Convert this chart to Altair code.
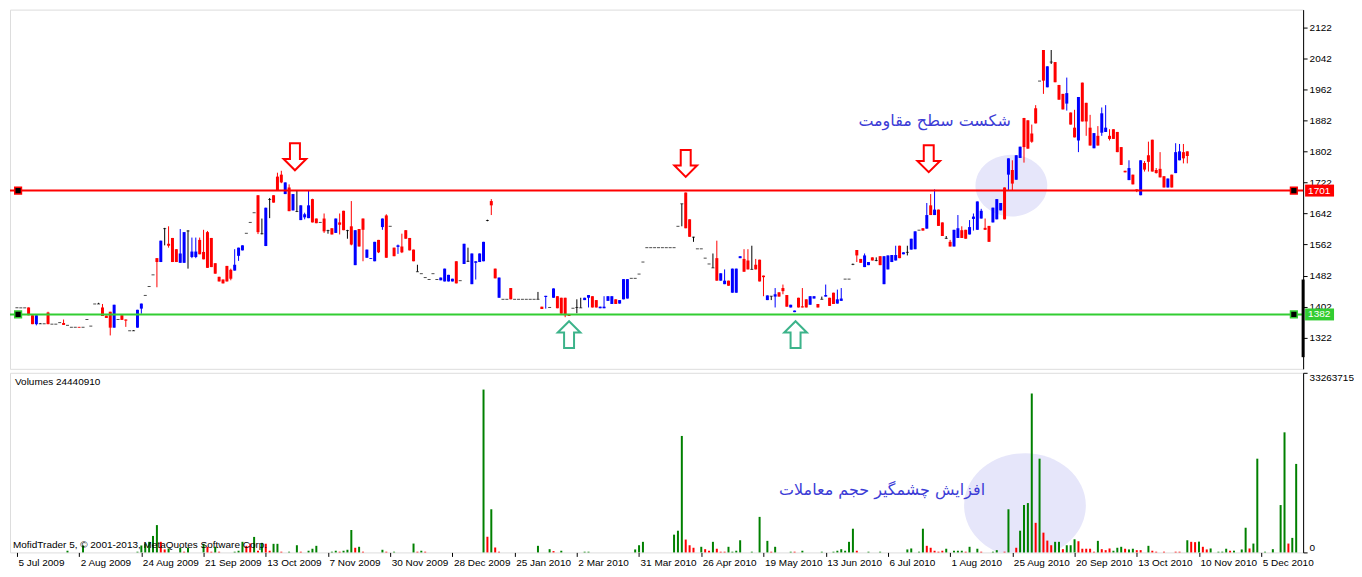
import json
import altair as alt
import pandas as pd

# ---------------- price candles (bar index -> O/H/L/C) ----------------
O = [
 1399,1399,1399,1400,1380,1357,1358,1358,1387,1357,
 1357,1361,1360,1354,1349,1349,1350,1349,1369,1352,
 1409,1409,1400,1379,1389,1348,1369,1380,1369,1340,
 1340,1348,1397,1431,1454,1484,1527,1517,1603,1564,
 1579,1550,1515,1515,1597,1530,1530,1574,1543,1594,
 1579,1514,1479,1472,1507,1497,1495,1533,1547,1591,
 1619,1644,1689,1590,1558,1678,1689,1737,1742,1692,
 1709,1650,1647,1625,1632,1630,1679,1629,1619,1629,
 1598,1604,1592,1619,1649,1598,1609,1509,1602,1629,
 1528,1525,1519,1574,1607,1637,1609,1554,1556,1557,
 1599,1579,1549,1492,1487,1477,1472,1487,1472,1470,
 1467,1467,1467,1519,1469,1512,1519,1460,1515,1517,
 1519,1624,1674,1500,1425,1421,1421,1450,1421,1421,
 1421,1421,1421,1421,1421,1402,1427,1400,1425,1429,
 1425,1425,1381,1398,1400,1399,1419,1425,1429,1419,
 1398,1398,1417,1409,1421,1410,1421,1423,1475,1475,
 1486,1517,1554,1554,1554,1554,1554,1554,1554,1554,
 1609,1667,1696,1627,1581,1551,1551,1527,1512,1502,
 1527,1469,1460,1469,1438,1438,1527,1525,1521,1498,
 1510,1523,1482,1419,1429,1428,1439,1450,1432,1400,
 1388,1425,1403,1421,1407,1423,1409,1421,1428,1425,
 1438,1410,1417,1473,1473,1511,1548,1525,1504,1509,
 1529,1521,1532,1460,1498,1517,1521,1559,1537,1542,
 1549,1550,1599,1604,1603,1663,1638,1652,1619,1578,
 1569,1557,1579,1599,1600,1588,1628,1600,1629,1605,
 1610,1619,1627,1650,1709,1742,1754,1729,1785,1888,
 1882,1848,1913,1983,2063,1967,2032,2032,1973,1950,
 1925,1902,1863,1830,1979,1927,1863,1810,1842,1850,
 1852,1842,1859,1852,1813,1752,1728,1742,1704,1689,
 1772,1792,1832,1754,1757,1738,1709,1742,1746,1779,
 1800,1802]
H = [
 1399,1399,1399,1400,1380,1380,1360,1358,1389,1357,
 1357,1361,1369,1354,1349,1349,1350,1349,1369,1352,
 1409,1412,1409,1379,1389,1407,1369,1380,1369,1340,
 1342,1394,1410,1431,1454,1484,1527,1572,1605,1609,
 1579,1550,1602,1594,1599,1580,1580,1580,1600,1597,
 1579,1514,1479,1472,1507,1500,1550,1554,1560,1591,
 1619,1644,1689,1629,1657,1682,1689,1747,1752,1722,
 1717,1692,1702,1663,1644,1702,1680,1629,1619,1642,
 1600,1604,1629,1642,1649,1600,1674,1599,1602,1629,
 1549,1527,1569,1574,1629,1640,1609,1554,1562,1590,
 1599,1579,1549,1510,1487,1477,1472,1487,1472,1477,
 1500,1484,1474,1519,1469,1564,1554,1539,1519,1539,
 1569,1626,1679,1500,1477,1421,1421,1450,1421,1421,
 1421,1421,1421,1421,1440,1402,1430,1400,1449,1429,
 1425,1425,1381,1398,1421,1425,1425,1432,1429,1419,
 1402,1429,1429,1429,1421,1419,1473,1473,1475,1475,
 1486,1517,1554,1554,1554,1554,1554,1554,1554,1554,
 1609,1667,1696,1627,1582,1551,1551,1527,1512,1539,
 1572,1488,1498,1469,1500,1500,1532,1550,1550,1559,
 1525,1523,1482,1431,1429,1450,1439,1459,1432,1407,
 1392,1425,1450,1421,1429,1429,1409,1428,1459,1425,
 1438,1446,1450,1473,1473,1513,1548,1525,1539,1517,
 1529,1529,1532,1532,1534,1535,1559,1559,1542,1559,
 1577,1596,1599,1604,1669,1692,1704,1652,1619,1584,
 1574,1600,1638,1609,1600,1625,1642,1673,1654,1629,
 1610,1657,1679,1669,1709,1784,1779,1792,1814,1888,
 1882,1871,1921,1983,2063,2021,2063,2032,1973,1950,
 1992,1902,1909,1942,1979,1927,1896,1849,1867,1915,
 1921,1859,1859,1852,1813,1752,1779,1742,1704,1779,
 1777,1827,1832,1759,1800,1738,1732,1742,1823,1821,
 1821,1802]
L = [
 1399,1399,1399,1380,1357,1354,1358,1358,1357,1357,
 1357,1361,1355,1354,1349,1349,1348,1349,1369,1352,
 1409,1409,1378,1373,1328,1348,1369,1368,1350,1340,
 1340,1348,1384,1431,1454,1484,1452,1517,1560,1554,
 1517,1517,1515,1515,1500,1527,1527,1537,1524,1502,
 1504,1487,1467,1462,1467,1470,1495,1520,1547,1591,
 1619,1644,1589,1588,1558,1630,1670,1700,1720,1692,
 1648,1650,1646,1625,1627,1630,1619,1617,1619,1592,
 1590,1588,1592,1588,1599,1577,1560,1509,1557,1519,
 1528,1525,1519,1540,1600,1528,1609,1532,1538,1540,
 1577,1547,1519,1492,1487,1477,1472,1487,1472,1470,
 1467,1467,1467,1462,1469,1512,1517,1460,1472,1517,
 1519,1622,1638,1475,1425,1421,1421,1421,1421,1421,
 1421,1421,1421,1421,1421,1396,1397,1400,1425,1398,
 1384,1375,1378,1398,1385,1399,1419,1400,1400,1400,
 1398,1398,1417,1409,1409,1410,1421,1423,1475,1475,
 1486,1517,1554,1554,1554,1554,1554,1554,1554,1554,
 1609,1609,1604,1582,1569,1551,1551,1527,1512,1502,
 1469,1469,1460,1456,1438,1438,1527,1492,1498,1498,
 1498,1467,1429,1419,1419,1400,1428,1434,1402,1400,
 1388,1400,1400,1400,1407,1423,1400,1421,1428,1404,
 1409,1410,1417,1473,1473,1509,1517,1515,1504,1509,
 1521,1519,1509,1460,1498,1517,1521,1527,1537,1534,
 1549,1550,1599,1598,1603,1638,1638,1610,1584,1577,
 1557,1557,1579,1579,1577,1588,1598,1600,1629,1600,
 1569,1619,1627,1650,1627,1702,1700,1729,1785,1773,
 1809,1824,1874,1983,1950,1967,2027,1980,1935,1910,
 1907,1871,1838,1800,1879,1842,1817,1810,1817,1842,
 1852,1830,1834,1800,1767,1748,1728,1717,1697,1689,
 1750,1750,1750,1745,1735,1709,1709,1709,1746,1779,
 1771,1771]
C = [
 1399,1399,1399,1380,1357,1380,1358,1358,1357,1357,
 1357,1361,1355,1354,1349,1349,1348,1349,1369,1352,
 1409,1409,1378,1373,1348,1407,1369,1368,1366,1340,
 1340,1394,1410,1431,1454,1484,1517,1572,1603,1559,
 1517,1517,1539,1594,1597,1544,1544,1537,1524,1502,
 1504,1487,1467,1462,1467,1474,1510,1554,1560,1591,
 1619,1644,1594,1590,1657,1678,1670,1702,1722,1722,
 1648,1692,1647,1663,1640,1663,1619,1617,1619,1596,
 1598,1588,1629,1613,1599,1598,1562,1599,1557,1600,
 1549,1527,1569,1542,1629,1528,1609,1532,1560,1542,
 1577,1547,1519,1492,1487,1477,1472,1487,1472,1477,
 1500,1484,1474,1462,1469,1564,1519,1539,1519,1539,
 1569,1624,1663,1475,1477,1421,1421,1421,1421,1421,
 1421,1421,1421,1421,1421,1396,1430,1400,1449,1398,
 1384,1380,1378,1398,1400,1399,1425,1432,1400,1400,
 1402,1402,1429,1429,1409,1419,1473,1473,1475,1475,
 1486,1517,1554,1554,1554,1554,1554,1554,1554,1554,
 1609,1667,1604,1582,1581,1551,1551,1527,1512,1502,
 1469,1488,1469,1456,1500,1500,1532,1492,1498,1498,
 1498,1467,1478,1431,1429,1434,1428,1442,1402,1407,
 1392,1400,1400,1400,1429,1429,1400,1421,1432,1404,
 1409,1421,1423,1473,1473,1511,1534,1515,1534,1517,
 1521,1521,1509,1532,1534,1535,1535,1527,1542,1542,
 1577,1596,1599,1598,1638,1638,1652,1610,1584,1578,
 1557,1600,1604,1579,1577,1607,1634,1673,1649,1600,
 1569,1657,1679,1669,1627,1784,1719,1792,1814,1813,
 1809,1827,1874,1983,1984,2021,2032,1980,1935,1910,
 1952,1871,1838,1942,1879,1879,1817,1849,1817,1900,
 1863,1834,1834,1800,1767,1748,1759,1717,1700,1779,
 1755,1775,1750,1746,1735,1709,1732,1709,1800,1802,
 1784,1790]

# ---------------- volumes (bar index, millions, up/down colour) ----------------
vol_idx = ([13,17,31,32,33,34,35,36,37,38,39,42,43,44,48,49,50,51,52]
         + [56,57,58,59,60,61,62,63,64,65,66,67,68,70,72,73,75,76,77,81,82,83,84,85,86,87,88,89]
         + [94,95,97,102,103,104,105,120,121,122,123,124]
         + [134,137,138,140,146,147,159,160,161,169,170,171,172,173,174,176,177,178,179,180,181,182,183,184,185,186,189,191,193,194,195]
         + [199,200,202,207,210,211,212,213,214,215,216,219,222,229,230,232,233,234,235,236,237,238,239,241,242,243,244,245,247,248,251,252,254]
         + [255,257,258,259,260,261,262,263,264,265,266,267,268,269,270,271,272,273,274,275,276,277,278,279,280,281,282,283,284,285,286,287,288,289,291,292,293,295,298,299,301]
         + [302,303,304,305,306,307,309,310,311,312,313,315,316,317,318,319,321,323,325,326,327,328,329])
vol_val = ([0.31,1.28,0.13,1.28,1.64,1.96,3.05,5.06,1.96,0.55,0.73,0.86,0.13,0.86,1.59,1.04,0.13,1.04,0.13]
         + [0.13,0.31,1.96,1.22,1.64,2.87,0.31,1.77,1.59,0.31,1.59,1.59,0.13,0.13,1.33,0.13,0.31,0.68,1.22,0.13,0.31,0.13,0.31,0.49,4.15,0.86,1.04,0.13]
         + [0.49,0.13,0.13,1.64,0.13,0.31,0.13,30.16,2.9,7.99,0.91,0.13]
         + [1.22,0.6,0.24,0.31,0.13,0.13,0.55,1.33,1.96,3.29,4.02,21.57,2.38,1.33,0.86,1.04,0.6,0.31,1.96,0.68,0.13,0.13,1.04,0.13,0.31,2.25,0.13,6.58,2.14,0.13,1.04]
         + [0.13,0.13,0.31,0.13,0.13,0.31,0.6,0.31,1.96,4.39,0.31,0.13,0.13,0.55,0.73,0.13,4.39,1.22,0.86,0.31,0.13,0.31,0.68,0.31,0.31,0.31,0.13,1.04,0.68,0.13,0.13,0.42,0.13]
         + [7.99,0.86,4.02,8.77,9.14,29.43,5.48,17.36,3.66,2.19,1.33,1.96,1.96,0.6,1.33,1.33,2.43,2.07,0.68,0.68,0.68,0.13,2.14,0.6,0.42,0.73,0.31,0.86,1.04,0.68,0.55,0.68,0.42,0.42,1.22,0.31,0.13,0.13,0.13,0.13,2.25]
         + [1.96,1.9,2.0,1.04,0.55,0.73,0.13,0.14,0.68,0.31,0.32,0.55,4.57,0.73,1.64,17.36,0.13,0.6,8.77,22.24,1.64,2.69,16.39])
vol_dir = ("ggggggggrrggrggrrgr"
         + "gggrrgrgrrggrggrgggggrgggrgr"
         + "grggrgrgrgrr"
         + "ggrggggggggg" + "rrr" + "grrgrrrgggggggrg"
         + "grgggggggg" + "r" + "gggggg" + "rrrrr" + "gggg" + "r" + "gg" + "r" + "gg" + "r"
         + "grgggg" + "rg" + "rrr" + "gg" + "r" + "ggg" + "rrrrr" + "g" + "rrr" + "ggg" + "r" + "gg" + "rr" + "g" + "rrrrr" + "g"
         + "rrgrrggggrgggrggggggrgg")

# ---------------- axes / annotations ----------------
N_BARS = 330
tick_idx = list(range(0, 321, 16))
tick_labels = ["5 Jul 2009", "2 Aug 2009", "24 Aug 2009", "21 Sep 2009", "13 Oct 2009",
               "7 Nov 2009", "30 Nov 2009", "28 Dec 2009", "25 Jan 2010", "2 Mar 2010",
               "31 Mar 2010", "26 Apr 2010", "19 May 2010", "13 Jun 2010", "6 Jul 2010",
               "1 Aug 2010", "25 Aug 2010", "20 Sep 2010", "13 Oct 2010", "10 Nov 2010",
               "5 Dec 2010"]
price_ticks = [1322, 1402, 1482, 1562, 1642, 1722, 1802, 1882, 1962, 2042, 2122]
price_domain = [1242, 2167]
vol_max = 33263715
levels = [1701, 1382]
level_colors = ["#FF0000", "#32CD32"]
scroll_range = [1472, 1272]
down_i, down_p = [71.5, 172, 234.5], [1788, 1771, 1783]
up_i, up_p = [142, 200.25], [1330, 1330]
res_text = "شکست سطح مقاومت"
res_i, res_p = 236, 1880
vol_text = "افزایش چشمگیر حجم معاملات"
vtxt_i, vtxt_v = 222.5, 11.5e6
ell_i, ell_p = 255.75, 1714
vell_i, vell_v = 259.25, 8.68e6

assert len(O) == len(H) == len(L) == len(C)
assert len(vol_idx) == len(vol_val) == len(vol_dir), (len(vol_idx), len(vol_val), len(vol_dir))

W, HP, HV = 1296, 360, 180
FONT = "Liberation Sans"
FS = 10
ELL = "M-1,0 A1,0.86 0 1,0 1,0 A1,0.86 0 1,0 -1,0 Z"
DOWN = "M-0.37,-1 L0.37,-1 L0.37,0.16 L0.84,0.16 L0,1 L-0.84,0.16 L-0.37,0.16 Z"
UP = "M-0.37,1 L0.37,1 L0.37,-0.16 L0.84,-0.16 L0,-1 L-0.84,-0.16 L-0.37,-0.16 Z"
PERSIAN_BLUE = "#3c3cd6"

cdf = pd.DataFrame({"i": range(len(O)), "o": O, "h": H, "l": L, "c": C})
cdf["col"] = ["#0000FF" if c > o else ("#FF0000" if c < o else "#000000") for o, c in zip(O, C)]

xs = alt.Scale(domain=[-0.5, N_BARS - 0.5], nice=False, zero=False)
ys = alt.Scale(domain=price_domain, nice=False, zero=False)
pax = alt.Axis(orient="right", values=price_ticks, format="d", title=None, grid=False, tickSize=4,
               tickColor="black", domainColor="black", labelColor="black",
               labelFont=FONT, labelFontSize=FS, labelPadding=2)
xp = alt.X("i:Q", scale=xs, axis=None)
colr = alt.Color("col:N", scale=None)

def py(field):
    return alt.Y(field, scale=ys, axis=pax)

base = alt.Chart(cdf)
wicks = base.transform_filter("datum.h > datum.l").mark_rule(strokeWidth=1).encode(
    x=xp, y=py("l:Q"), y2="h:Q", color=colr)
bodies = base.transform_filter("datum.o != datum.c").mark_bar(size=3, orient="vertical").encode(
    x=xp, y=py("o:Q"), y2="c:Q", color=colr)
flats = base.transform_filter("datum.o == datum.c").mark_tick(orient="horizontal", size=3, thickness=1).encode(
    x=xp, y=py("c:Q"), color=colr)

ell = alt.Chart(pd.DataFrame({"i": [ell_i], "p": [ell_p]})).mark_point(
    shape=ELL, size=72 * 72, filled=True, color="#E6E6FA", opacity=1, strokeWidth=0).encode(
    x=xp, y=py("p:Q"))

ldf = pd.DataFrame({"p": levels, "col": level_colors, "lab": [str(v) for v in levels]})
lines = alt.Chart(ldf).mark_rule(strokeWidth=2).encode(y=py("p:Q"), color=colr)
sq_rows = []
for p, col in zip(levels, level_colors):
    for i in (0.3, N_BARS - 1.6):
        sq_rows.append({"i": i, "p": p, "col": col})
squares = alt.Chart(pd.DataFrame(sq_rows)).mark_square(size=45, fill="black", strokeWidth=1.5, opacity=1).encode(
    x=xp, y=py("p:Q"), stroke=alt.Stroke("col:N", scale=None))
boxes = alt.Chart(ldf).mark_rule(strokeWidth=12).encode(
    x=alt.value(W + 2), x2=alt.value(W + 31), y=py("p:Q"), color=colr)
boxtext = alt.Chart(ldf).mark_text(align="left", baseline="middle", color="white", font=FONT, fontSize=FS).encode(
    x=alt.value(W + 5), y=py("p:Q"), text="lab:N")
scroll = alt.Chart(pd.DataFrame({"a": [scroll_range[0]], "b": [scroll_range[1]]})).mark_rule(
    strokeWidth=3, color="black").encode(x=alt.value(W), y=py("a:Q"), y2="b:Q")

down = alt.Chart(pd.DataFrame({"i": down_i, "p": down_p})).mark_point(
    shape=DOWN, size=729, filled=False, fill="white", stroke="#FF0000", strokeWidth=2, opacity=1).encode(
    x=xp, y=py("p:Q"))
up = alt.Chart(pd.DataFrame({"i": up_i, "p": up_p})).mark_point(
    shape=UP, size=729, filled=False, fill="white", stroke="#3cb38a", strokeWidth=2, opacity=1).encode(
    x=xp, y=py("p:Q"))
restxt = alt.Chart(pd.DataFrame({"i": [res_i], "p": [res_p], "t": [res_text]})).mark_text(
    font="DejaVu Sans", fontSize=16, color=PERSIAN_BLUE, baseline="middle").encode(
    x=xp, y=py("p:Q"), text="t:N")

price = alt.layer(ell, wicks, bodies, flats, lines, squares, down, up, restxt, boxes, boxtext, scroll).properties(
    width=W, height=HP)

# ---------------- volume panel ----------------
vdf = pd.DataFrame({"i": vol_idx, "v": [m * 1e6 for m in vol_val],
                    "col": ["#008000" if d == "g" else "#FF0000" for d in vol_dir]})
vys = alt.Scale(domain=[0, vol_max], nice=False, zero=True)
vax = alt.Axis(orient="right", values=[0, vol_max], format="d", labelFlush=True, title=None, grid=False,
               tickSize=4, tickColor="black", domainColor="black", labelColor="black",
               labelFont=FONT, labelFontSize=FS, labelPadding=2)
label_expr = json.dumps(tick_labels) + "[round(datum.value / 16)]"
xv = alt.X("i:Q", scale=xs, axis=alt.Axis(values=tick_idx, labelExpr=label_expr, title=None, grid=False,
                                          tickSize=4, tickColor="black", domain=False, labelAlign="left",
                                          labelOffset=1, labelPadding=1, labelFont=FONT, labelFontSize=FS,
                                          labelColor="black", labelOverlap=False, labelFlush=False))

def vy(field):
    return alt.Y(field, scale=vys, axis=vax)

vbars = alt.Chart(vdf).mark_bar(size=2, orient="vertical").encode(x=xv, y=vy("v:Q"), color=colr)
vell = alt.Chart(pd.DataFrame({"i": [vell_i], "v": [vell_v]})).mark_point(
    shape=ELL, size=122 * 122, filled=True, color="#E6E6FA", opacity=1, strokeWidth=0, clip=True).encode(
    x=xv, y=vy("v:Q"))
vtxt = alt.Chart(pd.DataFrame({"i": [vtxt_i], "v": [vtxt_v], "t": [vol_text]})).mark_text(
    font="DejaVu Sans", fontSize=16, color=PERSIAN_BLUE, baseline="middle").encode(
    x=xv, y=vy("v:Q"), text="t:N")
info = pd.DataFrame({"t": ["Volumes 24440910"]})
vlabel = alt.Chart(info).mark_text(align="left", baseline="top", font=FONT, fontSize=FS, color="black").encode(
    x=alt.value(5), y=alt.value(4), text="t:N")
copy = pd.DataFrame({"t": ["MofidTrader 5, © 2001-2013, MetaQuotes Software Corp."]})
vcopy = alt.Chart(copy).mark_text(align="left", baseline="alphabetic", font=FONT, fontSize=FS, color="black").encode(
    x=alt.value(3), y=alt.value(HV - 4), text="t:N")

volume = alt.layer(vell, vbars, vtxt, vlabel, vcopy).properties(width=W, height=HV)

chart = alt.VConcatChart(vconcat=[price, volume], spacing=2, padding=0, background="white").configure_view(
    stroke="black", strokeWidth=1).configure(font=FONT)

chart.save("out.html", embed_options={"renderer": "svg", "actions": False})
